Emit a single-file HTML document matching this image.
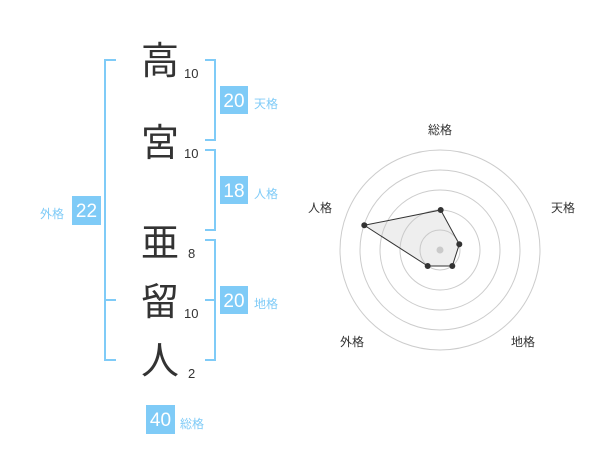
<!DOCTYPE html>
<html><head><meta charset="utf-8"><style>
body{margin:0;width:600px;height:470px;background:#fff;overflow:hidden;font-family:"Liberation Sans","Noto Sans CJK JP",sans-serif}
</style></head><body>
<svg width="600" height="470" xmlns="http://www.w3.org/2000/svg" font-family="Liberation Sans, Noto Sans CJK JP, sans-serif">
<g stroke="#7fcbf7" stroke-width="2" fill="none">
<path d="M116 60H105V360H116M105 300H116"/>
<path d="M205 60H215V140H205"/>
<path d="M205 150H215V230H205"/>
<path d="M205 240H215V360H205M205 300H215"/>
</g>
<g fill="#333" font-family="Noto Sans CJK JP, sans-serif" font-size="38" text-anchor="middle">
<text x="160" y="74">高</text>
<text x="160" y="156">宮</text>
<text x="160" y="256">亜</text>
<text x="160" y="315">留</text>
<text x="160" y="374">人</text>
</g>
<g fill="#333" font-size="13">
<text x="184" y="78">10</text>
<text x="184" y="158">10</text>
<text x="188" y="258">8</text>
<text x="184" y="318">10</text>
<text x="188" y="378">2</text>
</g>
<g fill="#7fcbf7">
<rect x="220" y="86" width="28" height="28"/>
<rect x="220" y="176" width="28" height="28"/>
<rect x="220" y="286" width="28" height="28"/>
<rect x="72" y="196" width="29" height="29"/>
<rect x="146" y="405" width="29" height="29"/>
</g>
<g fill="#fff" font-size="19" text-anchor="middle">
<text x="234" y="107">20</text>
<text x="234" y="197">18</text>
<text x="234" y="307">20</text>
<text x="86.5" y="217">22</text>
<text x="160.5" y="426">40</text>
</g>
<g fill="#7fcbf7" font-size="12">
<text x="254" y="108">天格</text>
<text x="254" y="198">人格</text>
<text x="254" y="308">地格</text>
<text x="40" y="218">外格</text>
<text x="180" y="428">総格</text>
</g>
<g stroke="#ccc" fill="none" stroke-width="1">
<circle cx="440" cy="250" r="20"/><circle cx="440" cy="250" r="40"/><circle cx="440" cy="250" r="60"/><circle cx="440" cy="250" r="80"/><circle cx="440" cy="250" r="100"/>
</g>
<circle cx="440" cy="250" r="3.5" fill="#ccc"/>
<polygon points="440.7,210 459.3,244.3 452.3,266 427.7,266 364.3,225.3" fill="rgba(200,200,200,0.3)" stroke="#333" stroke-width="1"/>
<g fill="#333">
<circle cx="440.7" cy="210" r="3"/><circle cx="459.3" cy="244.3" r="3"/><circle cx="452.3" cy="266" r="3"/><circle cx="427.7" cy="266" r="3"/><circle cx="364.3" cy="225.3" r="3"/>
</g>
<g fill="#333" font-size="12" text-anchor="middle">
<text x="440" y="134">総格</text>
<text x="563" y="212">天格</text>
<text x="523" y="346">地格</text>
<text x="352" y="346">外格</text>
<text x="320" y="212">人格</text>
</g>
</svg>
</body></html>
